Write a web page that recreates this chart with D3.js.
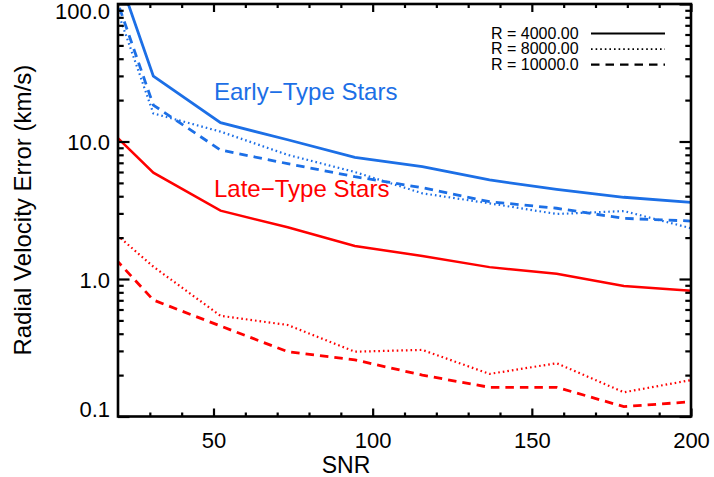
<!DOCTYPE html>
<html>
<head>
<meta charset="utf-8">
<script src="https://cdn.jsdelivr.net/npm/d3@7"></script>
<style>
  body { margin: 0; background: #fff; }
  text { font-family: "Liberation Sans", Arial, Helvetica, sans-serif; }
</style>
</head>
<body>
<script>
// Chart size
var width = 714;
var height = 477;

// SNR sample points (first point lies left of the plot window and gets clipped)
var snr = [10, 31.1, 52.2, 73.3, 94.4, 115.6, 136.7, 157.8, 178.9, 200];

// Early-type stars, radial velocity error (km/s)
var earlyR4000  = [760, 29.9, 13.7, 10.3, 7.67, 6.56, 5.25, 4.49, 3.93, 3.61];
var earlyR8000  = [398, 16.0, 11.8, 8.0, 6.0, 4.2, 3.55, 2.97, 3.12, 2.34];
var earlyR10000 = [467, 18.4, 8.67, 6.9, 5.55, 4.61, 3.65, 3.27, 2.76, 2.64];

// Late-type stars
var lateR4000  = [17.7, 5.93, 3.14, 2.38, 1.74, 1.47, 1.22, 1.09, 0.89, 0.82];
var lateR8000  = [3.27, 1.23, 0.54, 0.463, 0.296, 0.305, 0.204, 0.244, 0.15, 0.184];
var lateR10000 = [2.38, 0.703, 0.455, 0.296, 0.258, 0.2, 0.163, 0.163, 0.118, 0.128];

// Ticks
var xMajorTicks = [50, 100, 150, 200];
var xMinorTicks = [30, 40, 60, 70, 80, 90, 110, 120, 130, 140, 160, 170, 180, 190];
var yMajorTicks = [0.1, 1, 10, 100];
var yMinorTicks = [0.2, 0.3, 0.4, 0.5, 0.6, 0.7, 0.8, 0.9, 2, 3, 4, 5, 6, 7, 8, 9, 20, 30, 40, 50, 60, 70, 80, 90];
var yTickLabels = {0.1: "0.1", 1: "1.0", 10: "10.0", 100: "100.0"};

var legendLabels = ["R = 4000.00", "R = 8000.00", "R = 10000.0"];

var blue = "#1c6fe6";
var red = "#ff0000";
var dashes = [null, "1.6,3", "8.5,6"];

// plot window
var plotLeft = 118, plotRight = 691, plotTop = 4, plotBottom = 416.5;

var x = d3.scaleLinear().domain([20, 200]).range([plotLeft, plotRight]);
var y = d3.scaleLog().domain([0.1, 100]).range([plotBottom, plotTop]);

var svg = d3.select("body").append("svg")
  .attr("width", width)
  .attr("height", height);

svg.append("defs").append("clipPath").attr("id", "plotclip")
  .append("rect")
  .attr("x", plotLeft).attr("y", plotTop)
  .attr("width", plotRight - plotLeft).attr("height", plotBottom - plotTop);

// data lines
var line = d3.line()
  .x(function (d, i) { return x(snr[i]); })
  .y(function (d) { return y(d); });

var series = [
  {values: earlyR4000, color: blue, dash: dashes[0], w: 2.8},
  {values: earlyR8000, color: blue, dash: dashes[1], w: 2.2},
  {values: earlyR10000, color: blue, dash: dashes[2], w: 2.8},
  {values: lateR4000, color: red, dash: dashes[0], w: 2.5},
  {values: lateR8000, color: red, dash: dashes[1], w: 2.2},
  {values: lateR10000, color: red, dash: dashes[2], w: 2.8}
];

var plotGroup = svg.append("g").attr("clip-path", "url(#plotclip)");
plotGroup.selectAll("path")
  .data(series)
  .enter().append("path")
  .attr("fill", "none")
  .attr("stroke", function (d) { return d.color; })
  .attr("stroke-width", function (d) { return d.w; })
  .attr("stroke-dasharray", function (d) { return d.dash; })
  .attr("d", function (d) { return line(d.values); });

// axes: ticks point inward, on all four sides
function drawAxis(axis, tx, ty) {
  var g = svg.append("g")
    .attr("transform", "translate(" + tx + "," + ty + ")")
    .call(axis);
  g.select(".domain").remove();
  g.selectAll(".tick line").attr("stroke", "#000").attr("stroke-width", 2.2);
  g.selectAll("text").attr("fill", "#000").style("font-size", "22px");
  return g;
}

drawAxis(d3.axisBottom(x).tickValues(xMajorTicks).tickSize(-8).tickPadding(16).tickFormat(d3.format("d")), 0, plotBottom);
drawAxis(d3.axisBottom(x).tickValues(xMinorTicks).tickSize(-4).tickFormat(""), 0, plotBottom);
drawAxis(d3.axisTop(x).tickValues(xMajorTicks).tickSize(-8).tickFormat(""), 0, plotTop);
drawAxis(d3.axisTop(x).tickValues(xMinorTicks).tickSize(-4).tickFormat(""), 0, plotTop);

var yAxisG = drawAxis(d3.axisLeft(y).tickValues(yMajorTicks).tickSize(-11.5).tickPadding(8)
  .tickFormat(function (d) { return yTickLabels[d]; }), plotLeft, 0);
yAxisG.selectAll("text").attr("dy", function (d) {
  if (d === 100) return "0.68em";
  if (d === 0.1) return "0em";
  return "0.38em";
});
drawAxis(d3.axisLeft(y).tickValues(yMinorTicks).tickSize(-5.7).tickFormat(""), plotLeft, 0);
drawAxis(d3.axisRight(y).tickValues(yMajorTicks).tickSize(-11.5).tickFormat(""), plotRight, 0);
drawAxis(d3.axisRight(y).tickValues(yMinorTicks).tickSize(-5.7).tickFormat(""), plotRight, 0);

// frame
svg.append("rect")
  .attr("x", plotLeft).attr("y", plotTop)
  .attr("width", plotRight - plotLeft).attr("height", plotBottom - plotTop)
  .attr("fill", "none")
  .attr("stroke", "#000")
  .attr("stroke-width", 2.6);

// axis titles
svg.append("text")
  .attr("x", 346).attr("y", 473)
  .attr("text-anchor", "middle")
  .style("font-size", "23px")
  .text("SNR");

svg.append("text")
  .attr("transform", "translate(30.5," + ((plotTop + plotBottom) / 2) + ") rotate(-90)")
  .attr("text-anchor", "middle")
  .style("font-size", "24px")
  .text("Radial Velocity Error (km/s)");

// annotations
svg.append("text")
  .attr("x", 214).attr("y", 100)
  .attr("fill", blue)
  .style("font-size", "24px")
  .text("Early\u2212Type Stars");

svg.append("text")
  .attr("x", 214).attr("y", 197)
  .attr("fill", red)
  .style("font-size", "24px")
  .text("Late\u2212Type Stars");

// legend
var legend = svg.append("g");
var legendRows = legend.selectAll("g")
  .data(legendLabels)
  .enter().append("g")
  .attr("transform", function (d, i) { return "translate(0," + (33.5 + i * 15.6) + ")"; });
legendRows.append("text")
  .attr("x", 491).attr("y", 5.2)
  .style("font-size", "16px")
  .text(function (d) { return d; });
legendRows.append("line")
  .attr("x1", 591).attr("x2", 665)
  .attr("stroke", "#000")
  .attr("stroke-width", function (d, i) { return i === 1 ? 1.8 : 2.2; })
  .attr("stroke-dasharray", function (d, i) { return dashes[i]; });
</script>
</body>
</html>
